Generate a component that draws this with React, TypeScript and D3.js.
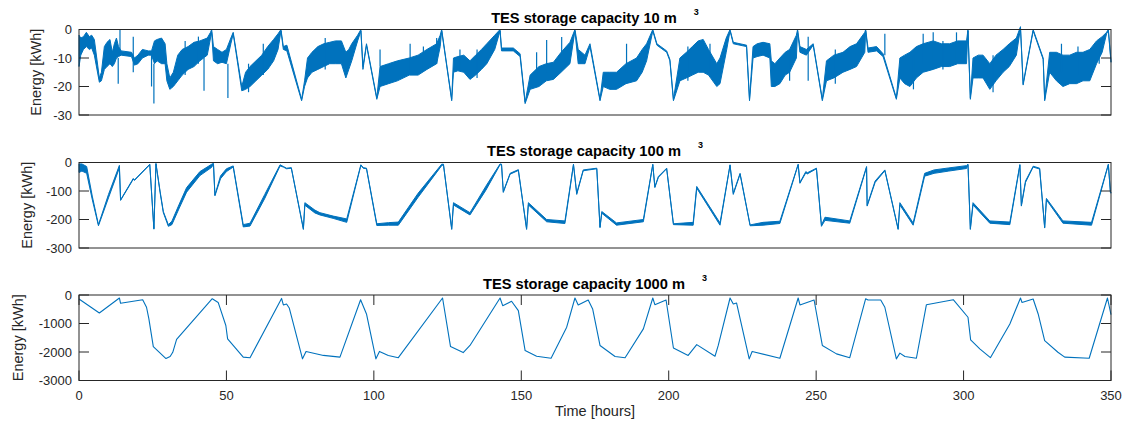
import React from "react";
import * as d3 from "d3";

// ---------- data ----------
const hourTicks = [0, 50, 100, 150, 200, 250, 300, 350];
const ticks10 = [0, -10, -20, -30];
const ticks100 = [0, -100, -200, -300];
const ticks1000 = [0, -1000, -2000, -3000];

// 10 m3: [hour, low envelope, high envelope] (kWh)
const tes10: number[][] = [
  [0, -13, -2], [0.6, -9, -3], [1.5, -7, -2.5], [2.5, -6, -1], [3.5, -7, -2.5], [4.3, -6.5, -2], [5.2, -9, -3.5],
  [6.9, -18.5, -17], [7.6, -18, -15], [8.6, -14, -6], [9.5, -13, -4.5], [10.5, -12, -3.5], [11.3, -13, -8],
  [12, -12, -5], [12.7, -10, -3], [13.4, -9.5, -6], [14.3, -9, -7.5], [17.8, -9.5, -8], [18.8, -12.5, -10],
  [20, -12, -9], [21.5, -10, -7], [23.5, -9, -7.5], [24.6, -9, -7.5], [25.6, -12, -4], [26.5, -11, -3.5],
  [28, -12, -3], [29.2, -12, -5], [29.8, -18, -12], [30.8, -21, -17], [32, -20, -15], [33.5, -18, -9],
  [35, -16, -7], [37, -14, -6], [39, -13, -4.5], [41, -11, -4], [43.5, -9, -3], [44.6, -3, -1], [45, -1, 0],
  [45.6, -11, -6], [47, -12, -7], [48.5, -11.5, -8], [50, -12, -7], [51.5, -5, -3], [52.3, -1.5, -1],
  [55.2, -21.5, -20], [56.5, -21, -15], [58, -20, -13], [60, -18, -11], [62, -16, -9], [64, -14, -6],
  [66, -11, -3.5], [67.5, -7, -1.5], [68.5, -0.5, 0], [69.3, -7, -6], [70.5, -7.5, -5.5], [75.5, -25, -24.5],
  [76.5, -20, -18], [77.5, -17, -10], [79, -15, -8], [81, -14, -6], [83, -13, -5], [85, -12, -4.5],
  [87, -12, -4], [89, -12, -4], [90.5, -17, -8], [91.5, -14, -7], [92.5, -11, -5], [94.5, -4, -2],
  [95.6, -0.5, 0], [96.3, -14, -13], [97.5, -5.5, -5], [101, -24.5, -24], [102.1, -20, -13],
  [105, -19, -12], [108, -18, -11], [112, -16, -10], [115, -16, -9], [118, -14, -7], [121.3, -12, -5],
  [122.5, -6, -2], [123, -0.5, 0], [126.4, -25, -24.5], [127, -15, -10], [128.5, -14.5, -9.5],
  [130.5, -15, -9], [132.6, -17.5, -11], [134.5, -16, -9], [136.5, -14, -7], [138.3, -12, -5],
  [141, -7, -2], [142.8, -0.5, 0], [143.3, -7.5, -6.5], [147.3, -7.5, -6.5], [149.6, -9.5, -8.5],
  [151.3, -26, -25.5], [153, -21, -16], [156, -20, -13], [158.5, -18, -12], [160.9, -17.5, -11.5],
  [163.5, -15, -8], [166.5, -12, -4.5], [168.2, -0.5, 0], [169.3, -12, -7], [171.6, -12, -9],
  [173.3, -6, -5], [176.7, -25, -24.5], [177.8, -20, -15], [180, -21, -15], [182.3, -21, -15],
  [185.5, -19, -12], [189.1, -18, -10], [191, -15, -7], [192.5, -11, -5], [194.6, -0.5, 0], [196, -5.5, -5],
  [199.3, -8, -7.5], [200.4, -11, -10.5], [201.6, -25, -24.5], [203.8, -18, -10], [206, -17, -8],
  [208, -16, -6], [210, -15, -4], [211.7, -15, -3.5], [213.5, -16, -7], [216.3, -20, -12], [217.4, -19, -10],
  [219.5, -8, -3], [220.8, -0.5, 0], [221.9, -5, -4.5], [226.4, -6, -5.5], [227.4, -25, -24.5],
  [228.6, -10, -6], [230, -9.5, -5], [232, -9, -4.5], [234.3, -10, -5], [234.8, -20, -11], [236, -20, -12],
  [237.7, -19, -10], [239.5, -16, -8], [241, -15, -7], [243.3, -10, -2], [243.7, -0.5, 0], [244.5, -8, -6],
  [246.7, -9, -7], [249, -5.5, -5], [252.1, -25, -24.5], [253.5, -18, -11], [256, -17, -9], [259.1, -15, -8],
  [261.5, -14, -6], [263.7, -13, -5], [266.5, -8, -1], [266.8, -0.5, 0], [267.6, -8, -6.5], [270.5, -7.5, -6],
  [272.7, -9.5, -8.5], [277.2, -24.5, -24], [278.4, -17, -10], [280, -19, -9], [281.8, -20, -8],
  [284, -17, -6], [286.3, -15, -5], [289.7, -14, -4], [292.5, -13, -5], [295.3, -13, -5], [298, -12, -4],
  [301, -12, -4], [301.5, -0.5, 0], [302.3, -24.5, -24], [303.2, -17, -10], [305, -17, -9], [306.6, -17, -9],
  [308.9, -21, -12], [311, -18, -9], [313.4, -15, -7], [315.5, -13, -5], [317.9, -9, -3], [319.3, 0.5, 1],
  [320.2, -19.5, -19], [323.6, -0.5, 0], [327, -10.5, -10], [327.5, -25, -24.5], [329.2, -15, -8],
  [331.5, -18, -8], [333.7, -20, -9], [336, -19, -9], [338.3, -19, -8], [340.5, -18, -8], [342.8, -18, -7],
  [345.1, -12, -4], [347, -8, -2.5], [348.5, -1.5, -1], [349.1, -0.5, 0], [350, -11.5, -11],
];

// 10 m3 short spikes: [hour, from, to]
const spikes10: number[][] = [
  [13.3, -19, -10], [13.9, -8, 0], [18.4, -15, -2.5], [24.6, -20, -9], [25.4, -26, -12], [42.4, -21.5, -10],
  [50.5, -24, -12], [36, -16, -4], [40.5, -12, -2.5], [57.5, -22, -12], [62.5, -16, -5], [83.5, -14, -3],
  [102.1, -13, -7], [112.3, -14, -5], [116.8, -14, -6], [121.3, -12, -3], [129.2, -14, -7], [135, -17, -7],
  [155.2, -16, -8], [158.6, -15, -3.7], [163.7, -14, -2.6], [185.7, -15, -5], [206.5, -18, -6],
  [214, -14, -5], [241, -18, -7], [247.3, -18, -2.5], [256.5, -19, -7], [273.3, -9, -1.5], [283, -21, -9],
  [286.3, -12, -1.5], [289.7, -12, -1], [293, -14, -4], [297.6, -12, -1], [310, -22, -9],
  [333.2, -15, -5], [338.8, -16, -6], [346, -12, -5],
];

// 100 m3: [hour, low, high] (kWh)
const tes100: number[][] = [
  [0, -35, -5], [1, -30, -5], [2.6, -38, -14], [4.5, -130, -118], [6.6, -222, -218], [10, -124, -112],
  [13.7, -19, -10], [14.1, -133, -131], [18, -66, -63], [18.4, -58, -56], [18.8, -63, -61], [24, -8, -6],
  [25.4, -234, -232], [26.1, -5, -3], [27.5, -105, -101], [28.6, -176, -172], [30.3, -224, -218],
  [31.5, -218, -206], [34, -160, -146], [36.5, -104, -88], [41, -46, -32], [45, -17, -6], [45.6, -5, -3],
  [46.1, -117, -114], [48, -57, -47], [50, -32, -22], [52.3, -16, -12], [55.7, -226, -218], [58, -223, -213],
  [63, -126, -112], [68.2, -12, -8], [69.3, -16, -14], [70.4, -22, -20], [72, -20, -18], [76.1, -235, -232],
  [76.6, -150, -141], [80, -177, -167], [81.7, -184, -176], [86.2, -196, -188], [90.8, -210, -198],
  [95.6, -10, -8], [96.4, -20, -18], [97.5, -22, -20], [101, -221, -215], [105, -220, -211],
  [108.3, -220, -209], [115, -122, -108], [123, -11, -6], [123.6, -8, -6], [126.4, -235, -232],
  [127, -149, -141], [132.6, -184, -176], [138, -97, -83], [142.8, -8, -5], [143.3, -8, -6],
  [143.9, -105, -102], [146.2, -41, -38], [149, -28, -25], [151.8, -235, -232], [152.4, -149, -141],
  [158.6, -208, -200], [164.8, -214, -205], [167.7, -8, -6], [168.8, -112, -108], [171, -29, -26],
  [175.6, -22, -20], [176.7, -229, -226], [177.3, -178, -172], [182.3, -220, -212], [191.4, -208, -200],
  [194.6, -8, -6], [195.3, -88, -85], [196.5, -52, -49], [199.3, -22, -20], [201.6, -218, -215],
  [208.3, -220, -210], [209.5, -90, -84], [217.4, -220, -212], [220.8, -10, -8], [221.9, -112, -108],
  [224.2, -41, -38], [227.6, -222, -219], [232, -220, -210], [237.7, -214, -206], [243.9, -8, -6],
  [244.5, -73, -70], [246.5, -36, -32], [247, -40, -36], [250.1, -22, -20], [251.8, -224, -220],
  [253, -203, -192], [261.4, -213, -205], [267.1, -17, -14], [267.3, -153, -150], [270, -70, -65],
  [273.3, -29, -26], [277.8, -235, -232], [278.4, -149, -141], [282.9, -220, -212], [286.8, -48, -38],
  [290, -38, -26], [295, -30, -19], [301, -21, -11], [301.5, -8, -6], [302.3, -235, -232],
  [303.2, -149, -141], [308.9, -213, -205], [315.7, -218, -209], [319.1, -10, -7], [319.6, -153, -150],
  [321, -70, -65], [323.6, -16, -13], [325.8, -23, -20], [327.5, -230, -227], [328.1, -131, -126],
  [333.7, -213, -205], [343.4, -220, -210], [349.1, -8, -6], [349.8, -106, -102], [350, -108, -104],
];

// 1000 m3: [hour, energy] (kWh)
const tes1000: number[][] = [
  [0, -140], [6.9, -630], [13.7, -105], [14.1, -290], [21.6, -165], [22.9, -430], [23.7, -840],
  [25.2, -1810], [29.5, -2230], [30.9, -2160], [31.8, -2010], [33.1, -1560], [45.2, -130], [47.2, -260],
  [49.8, -1070], [50.4, -1540], [55.7, -2180], [58, -2200], [68.7, -120], [69.3, -350], [70.4, -315],
  [71.3, -455], [75.8, -2240], [77, -1980], [82.9, -2120], [88.5, -2180], [95.5, -165], [97.5, -665],
  [100.7, -2240], [101.9, -1980], [104.9, -2120], [108.3, -2200], [123.3, -105], [126, -1810],
  [130.3, -2020], [132.6, -1770], [142.8, -105], [143.7, -375], [146.7, -220], [149, -550],
  [151.3, -1950], [155.2, -2150], [160.1, -2220], [165.4, -1130], [168.2, -105], [169.3, -350],
  [172.7, -175], [174.2, -490], [176.7, -1770], [181.8, -2160], [185.2, -2200], [191.4, -1190],
  [194.6, -105], [195.3, -340], [199.1, -175], [201.6, -1860], [206.6, -2120], [209.5, -1740],
  [215.7, -2150], [216.8, -1770], [220.8, -105], [221.9, -315], [223, -280], [227.3, -2240],
  [228.3, -1980], [237.7, -2220], [243.9, -105], [244.5, -350], [249.3, -175], [252.1, -1770],
  [256.9, -2065], [261.4, -2200], [266.8, -130], [267.6, -175], [271.9, -175], [273.3, -430],
  [277.2, -2240], [278.4, -2040], [280.1, -2160], [284, -2220], [287.4, -340], [296.5, -165],
  [301.5, -780], [302.4, -1575], [305.5, -1890], [309.1, -2200], [315.7, -1015], [319.3, -105],
  [319.8, -260], [323.6, -140], [325.3, -665], [327.5, -1600], [332, -2010], [334.3, -2180],
  [342.6, -2220], [348.8, -105], [350, -690],
];

// ---------- layout ----------
const W = 1126;
const HGT = 423;
const L = 79;
const R = 1111;
const PH = 85.5;
const BLUE = "#0072BD";
const AX = "#262626";
const FONT = "'Liberation Sans', Arial, Helvetica, sans-serif";
const TICK = 10;

type PanelProps = {
  top: number;
  domain: [number, number];
  yTicks: number[];
  title: string;
  labelX: number;
  band?: number[][];
  spikes?: number[][];
  line?: number[][];
  showX?: boolean;
};

function Panel({ top, domain, yTicks, title, labelX, band, spikes, line, showX }: PanelProps) {
  const x = d3.scaleLinear().domain([0, 350]).range([L, R]);
  const y = d3.scaleLinear().domain(domain).range([top + PH, top]);
  const area = d3
    .area<number[]>()
    .x((d) => x(d[0]))
    .y0((d) => y(d[1]))
    .y1((d) => y(d[2]));
  const ln = d3
    .line<number[]>()
    .x((d) => x(d[0]))
    .y((d) => y(d[1]));
  const mid = (L + R) / 2;
  return (
    <g>
      {band && (
        <path d={area(band) || ""} fill={BLUE} stroke={BLUE} strokeWidth={1} strokeLinejoin="round" />
      )}
      {spikes &&
        spikes.map((s, i) => (
          <line key={i} x1={x(s[0])} x2={x(s[0])} y1={y(s[1])} y2={y(s[2])} stroke={BLUE} strokeWidth={1.2} />
        ))}
      {line && <path d={ln(line) || ""} fill="none" stroke={BLUE} strokeWidth={1.1} strokeLinejoin="round" />}
      <rect x={L} y={top} width={R - L} height={PH} fill="none" stroke={AX} strokeWidth={1} />
      {yTicks.map((t) => (
        <g key={t}>
          <line x1={L} x2={L + TICK} y1={y(t)} y2={y(t)} stroke={AX} strokeWidth={1} />
          <line x1={R - TICK} x2={R} y1={y(t)} y2={y(t)} stroke={AX} strokeWidth={1} />
          <text x={72} y={y(t)} dy="0.35em" textAnchor="end" fontSize={13} fill={AX} fontFamily={FONT}>
            {t}
          </text>
        </g>
      ))}
      {showX &&
        hourTicks.map((t) => (
          <g key={t}>
            <line x1={x(t)} x2={x(t)} y1={top + PH} y2={top + PH - TICK} stroke={AX} strokeWidth={1} />
            <line x1={x(t)} x2={x(t)} y1={top} y2={top + TICK} stroke={AX} strokeWidth={1} />
            <text x={x(t)} y={top + PH + 19} textAnchor="middle" fontSize={13} fill={AX} fontFamily={FONT}>
              {t}
            </text>
          </g>
        ))}
      {showX && (
        <text x={mid} y={top + PH + 35} textAnchor="middle" fontSize={14.5} fill={AX} fontFamily={FONT}>
          Time [hours]
        </text>
      )}
      <text
        transform={`translate(${labelX},${top + PH / 2}) rotate(-90)`}
        textAnchor="middle"
        fontSize={14.5}
        fill={AX}
        fontFamily={FONT}
      >
        Energy [kWh]
      </text>
      <text x={mid} y={top - 6.5} textAnchor="middle" fontSize={14.67} fontWeight="bold" fill="#000" fontFamily={FONT}>
        {title}
        <tspan dx={17} dy={-8} fontSize={9}>
          3
        </tspan>
      </text>
    </g>
  );
}

export default function App() {
  return (
    <svg
      width={W}
      height={HGT}
      viewBox={`0 0 ${W} ${HGT}`}
      style={{ position: "absolute", left: 0, top: 0, background: "#fff" }}
    >
      <rect width={W} height={HGT} fill="#fff" />
      <Panel top={29.5} domain={[-30, 0]} yTicks={ticks10} title="TES storage capacity 10 m" labelX={40.5} band={tes10} spikes={spikes10} />
      <Panel top={162.5} domain={[-300, 0]} yTicks={ticks100} title="TES storage capacity 100 m" labelX={32} band={tes100} />
      <Panel top={295} domain={[-3000, 0]} yTicks={ticks1000} title="TES storage capacity 1000 m" labelX={22.5} line={tes1000} showX />
    </svg>
  );
}
